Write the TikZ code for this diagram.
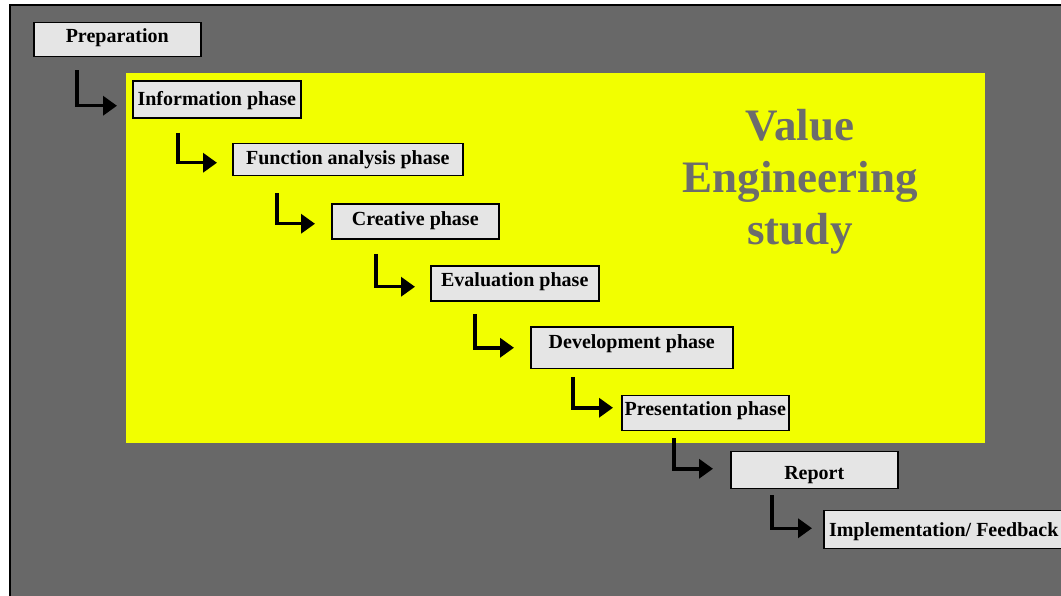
\documentclass[tikz,border=0pt]{standalone}
\usepackage{fontspec}
\setmainfont{Liberation Serif}
\usepackage{xcolor}
\usetikzlibrary{arrows.meta,calc}
\definecolor{vegray}{RGB}{104,104,104}
\definecolor{veyellow}{RGB}{242,255,0}
\definecolor{vebox}{RGB}{229,229,229}
\definecolor{vetitle}{RGB}{108,108,108}
% text set with its baseline #1 below the box centre
\newcommand{\phlabel}[2]{\raisebox{-#1pt}[0pt][0pt]{#2}}

\begin{document}
\begin{tikzpicture}[
  x=1pt, y=1pt,
  phase/.style={rectangle, draw, line width=1.5pt, fill=vebox, anchor=north west,
                inner sep=0pt, font=\fontsize{20}{24}\selectfont\bfseries},
  elbow/.style={-{Triangle[length=14pt,width=19pt]}, line width=3.5pt}
]
\useasboundingbox (0,0) rectangle (1061,-596);
\clip (0,0) rectangle (1061,-596);

% Background
\fill[white] (0,0) rectangle (1061,-596);
\draw[fill=vegray, line width=2pt] (10,-5) rectangle (1080,-610);
\fill[veyellow] (126,-73) rectangle (985,-443);

% Title
\node[text=vetitle, font=\fontsize{45}{52}\selectfont\bfseries, align=center] (title) at (800,-182) {Value\\Engineering\\study};

% Nodes
\node[phase, minimum width=167, minimum height=34] (prep) at (33,-22) {\phlabel{2.9}{Preparation}};
\node[phase, minimum width=168, minimum height=37] (info) at (132,-80.5) {\phlabel{6}{Information phase}};
\node[phase, minimum width=230, minimum height=32] (func) at (232,-143) {\phlabel{5.1}{Function analysis phase}};
\node[phase, minimum width=167, minimum height=35] (crea) at (331,-203.5) {\phlabel{3.5}{Creative phase}};
\node[phase, minimum width=168, minimum height=35] (eval) at (430,-265.5) {\phlabel{2.8}{Evaluation phase}};
\node[phase, minimum width=202, minimum height=41] (devl) at (530,-326.5) {\phlabel{0.5}{Development phase}};
\node[phase, minimum width=167, minimum height=35] (pres) at (621,-394.5) {\phlabel{3}{Presentation phase}};
\node[phase, minimum width=167, minimum height=37] (rept) at (730,-450.5) {\phlabel{9.3}{Report}};
\node[phase, minimum width=240, minimum height=38] (impl) at (823,-509.5) {\phlabel{7.5}{Implementation/ Feedback}};

% Arrows
\draw[elbow] ($(prep.south west)+(44,-13)$) |- ($(info.west)+(-15,-6)$);
\draw[elbow] ($(info.south west)+(46,-14)$) |- ($(func.west)+(-15,-3)$);
\draw[elbow] ($(func.south west)+(45,-17)$) |- ($(crea.west)+(-16,-2)$);
\draw[elbow] ($(crea.south west)+(45,-14)$) |- ($(eval.west)+(-15,-3)$);
\draw[elbow] ($(eval.south west)+(45,-12)$) |- ($(devl.west)+(-16,0)$);
\draw[elbow] ($(devl.south west)+(43,-8)$) |- ($(pres.west)+(-8,5)$);
\draw[elbow] ($(pres.south west)+(53,-7)$) |- ($(rept.west)+(-17,1)$);
\draw[elbow] ($(rept.south west)+(42,-6)$) |- ($(impl.west)+(-11,1)$);

\end{tikzpicture}
\end{document}
